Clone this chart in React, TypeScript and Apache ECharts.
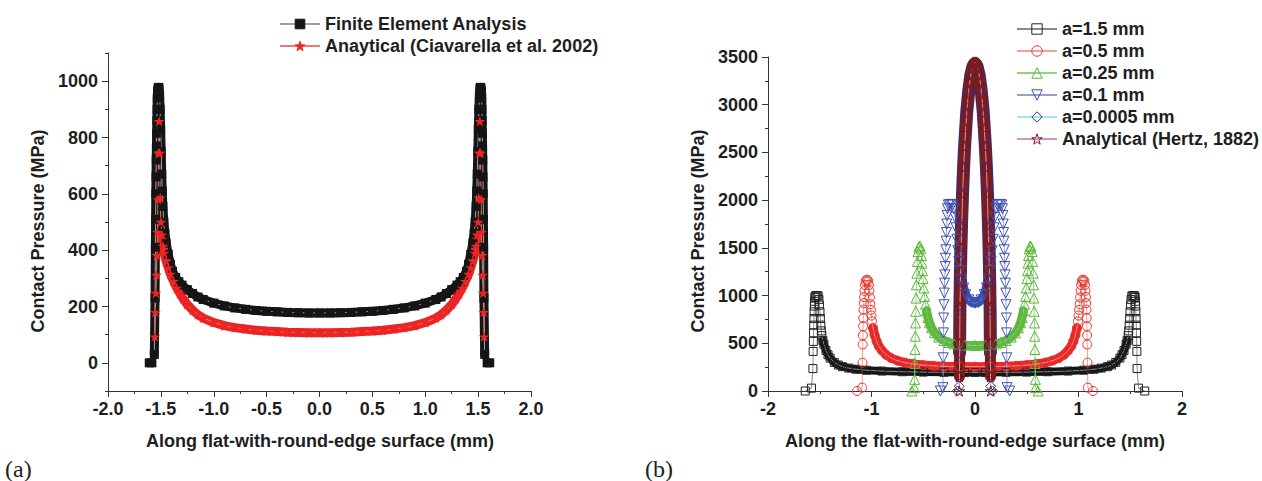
import React, { useEffect, useRef } from "react";
import * as echarts from "echarts";

type Pt = [number, number];

const FONT = "'Liberation Sans', Arial, Helvetica, sans-serif";
const AXIS_COLOR = "#333333";
const TEXT_COLOR = "#1e1e1e";

// ---------- Panel (a) ----------
const A_X_TITLE = "Along flat-with-round-edge surface (mm)";
const A_Y_TITLE = "Contact Pressure (MPa)";
const A_Y_MAJOR = [0, 200, 400, 600, 800, 1000];
const A_Y_MINOR = [-100, 100, 300, 500, 700, 900, 1100];
const A_NAMES = ["Finite Element Analysis", "Anaytical (Ciavarella et al. 2002)"];

const FEA_EDGE_L: Pt[] = [[-1.61, 0], [-1.585, 0], [-1.562, 30], [-1.555, 230], [-1.552, 410], [-1.55, 510], [-1.548, 600], [-1.546, 660], [-1.544, 720], [-1.542, 770], [-1.54, 815], [-1.538, 860], [-1.536, 900], [-1.534, 940], [-1.531, 965]];
const FEA_INNER: Pt[] = [[-1.527, 975], [-1.522, 978], [-1.517, 975], [-1.512, 950], [-1.507, 900], [-1.502, 830], [-1.497, 750], [-1.492, 670], [-1.487, 610], [-1.481, 555], [-1.472, 500], [-1.462, 460], [-1.45, 425], [-1.43, 385], [-1.41, 350], [-1.39, 325], [-1.36, 303], [-1.33, 288], [-1.3, 276], [-1.25, 260], [-1.2, 246], [-1.15, 234], [-1.1, 225], [-1.0, 212], [-0.9, 202], [-0.8, 195], [-0.7, 190], [-0.6, 186], [-0.5, 183], [-0.4, 181], [-0.3, 179], [-0.2, 178], [-0.1, 177], [0, 177], [0.1, 177], [0.2, 178], [0.3, 179], [0.4, 181], [0.5, 183], [0.6, 186], [0.7, 190], [0.8, 195], [0.9, 202], [1.0, 212], [1.1, 225], [1.15, 234], [1.2, 246], [1.25, 260], [1.3, 276], [1.33, 288], [1.36, 303], [1.39, 325], [1.41, 350], [1.43, 385], [1.45, 425], [1.462, 460], [1.472, 500], [1.481, 555], [1.487, 610], [1.492, 670], [1.497, 750], [1.502, 830], [1.507, 900], [1.512, 950], [1.517, 975], [1.522, 978], [1.527, 975]];
const FEA_EDGE_R: Pt[] = [[1.531, 965], [1.534, 940], [1.536, 900], [1.538, 860], [1.54, 815], [1.542, 770], [1.544, 720], [1.546, 660], [1.548, 600], [1.55, 510], [1.552, 410], [1.555, 230], [1.562, 30], [1.585, 0], [1.61, 0]];

const ANA_EDGE_L: Pt[] = [[-1.557, 93], [-1.552, 180], [-1.547, 248], [-1.542, 312], [-1.537, 382], [-1.532, 464], [-1.527, 580], [-1.522, 745], [-1.516, 858], [-1.511, 745], [-1.506, 585], [-1.5, 500]];
const ANA_INNER: Pt[] = [[-1.49, 455], [-1.48, 415], [-1.47, 390], [-1.45, 362], [-1.43, 338], [-1.41, 315], [-1.38, 290], [-1.35, 266], [-1.32, 246], [-1.29, 228], [-1.25, 207], [-1.2, 187], [-1.15, 171], [-1.1, 159], [-1.0, 143], [-0.9, 132], [-0.8, 125], [-0.7, 120], [-0.6, 116], [-0.5, 113], [-0.4, 111], [-0.3, 109], [-0.2, 108], [-0.1, 107], [0, 107], [0.1, 107], [0.2, 108], [0.3, 109], [0.4, 111], [0.5, 113], [0.6, 116], [0.7, 120], [0.8, 125], [0.9, 132], [1.0, 143], [1.1, 159], [1.15, 171], [1.2, 187], [1.25, 207], [1.29, 228], [1.32, 246], [1.35, 266], [1.38, 290], [1.41, 315], [1.43, 338], [1.45, 362], [1.47, 390], [1.48, 415], [1.49, 455]];
const ANA_EDGE_R: Pt[] = [[1.5, 500], [1.506, 585], [1.511, 745], [1.516, 858], [1.522, 745], [1.527, 580], [1.532, 464], [1.537, 382], [1.542, 312], [1.547, 248], [1.552, 180], [1.557, 93]];

// ---------- Panel (b) ----------
const B_X_TITLE = "Along the flat-with-round-edge surface (mm)";
const B_Y_TITLE = "Contact Pressure (MPa)";
const B_NAMES = ["a=1.5 mm", "a=0.5 mm", "a=0.25 mm", "a=0.1 mm", "a=0.0005 mm", "Analytical (Hertz, 1882)"];

const A15_EDGE_L: Pt[] = [[-1.64, 0], [-1.58, 30], [-1.566, 235], [-1.564, 415], [-1.562, 520], [-1.56, 610], [-1.558, 690], [-1.556, 760], [-1.554, 830], [-1.552, 890], [-1.55, 940], [-1.547, 980], [-1.543, 995], [-1.535, 1000], [-1.525, 1000], [-1.515, 995], [-1.508, 960], [-1.503, 900], [-1.498, 830], [-1.494, 760], [-1.49, 690], [-1.485, 630], [-1.48, 580]];
const A15_FLOOR: Pt[] = [[-1.47, 530], [-1.46, 490], [-1.44, 425], [-1.42, 380], [-1.4, 345], [-1.36, 300], [-1.32, 272], [-1.28, 255], [-1.22, 240], [-1.15, 228], [-1.05, 218], [-0.9, 209], [-0.7, 202], [-0.5, 198], [-0.3, 196], [-0.1, 195], [0, 195], [0.1, 195], [0.3, 196], [0.5, 198], [0.7, 202], [0.9, 209], [1.05, 218], [1.15, 228], [1.22, 240], [1.28, 255], [1.32, 272], [1.36, 300], [1.4, 345], [1.42, 380], [1.44, 425], [1.46, 490], [1.47, 530]];
const A15_EDGE_R: Pt[] = [[1.48, 580], [1.485, 630], [1.49, 690], [1.494, 760], [1.498, 830], [1.503, 900], [1.508, 960], [1.515, 995], [1.525, 1000], [1.535, 1000], [1.543, 995], [1.547, 980], [1.55, 940], [1.552, 890], [1.554, 830], [1.556, 760], [1.558, 690], [1.56, 610], [1.562, 520], [1.564, 415], [1.566, 235], [1.58, 30], [1.64, 0]];

const A05_EDGE_L: Pt[] = [[-1.14, 0], [-1.09, 35], [-1.087, 296], [-1.085, 487], [-1.083, 584], [-1.081, 678], [-1.079, 765], [-1.077, 852], [-1.074, 921], [-1.071, 985], [-1.067, 1050], [-1.062, 1110], [-1.056, 1150], [-1.048, 1165], [-1.04, 1165], [-1.032, 1150], [-1.026, 1110], [-1.021, 1050], [-1.016, 980], [-1.011, 910], [-1.006, 850], [-1.001, 790], [-0.995, 730]];
const A05_FLOOR: Pt[] = [[-0.985, 660], [-0.97, 585], [-0.95, 520], [-0.93, 470], [-0.9, 425], [-0.86, 380], [-0.81, 345], [-0.75, 318], [-0.68, 298], [-0.6, 283], [-0.5, 272], [-0.4, 264], [-0.3, 259], [-0.15, 256], [0, 255], [0.15, 256], [0.3, 259], [0.4, 264], [0.5, 272], [0.6, 283], [0.68, 298], [0.75, 318], [0.81, 345], [0.86, 380], [0.9, 425], [0.93, 470], [0.95, 520], [0.97, 585], [0.985, 660]];
const A05_EDGE_R: Pt[] = [[0.995, 730], [1.001, 790], [1.006, 850], [1.011, 910], [1.016, 980], [1.021, 1050], [1.026, 1110], [1.032, 1150], [1.04, 1165], [1.048, 1165], [1.056, 1150], [1.062, 1110], [1.067, 1050], [1.071, 985], [1.074, 921], [1.077, 852], [1.079, 765], [1.081, 678], [1.083, 584], [1.085, 487], [1.087, 296], [1.09, 35], [1.14, 0]];

const A025_EDGE_L: Pt[] = [[-0.61, 0], [-0.585, 35], [-0.583, 122], [-0.581, 289], [-0.579, 435], [-0.577, 574], [-0.575, 713], [-0.572, 835], [-0.569, 974], [-0.566, 1113], [-0.562, 1235], [-0.557, 1357], [-0.551, 1461], [-0.542, 1510], [-0.532, 1520], [-0.523, 1490], [-0.517, 1420], [-0.512, 1340], [-0.507, 1260], [-0.502, 1180], [-0.495, 1080], [-0.487, 990], [-0.478, 910]];
const A025_FLOOR: Pt[] = [[-0.468, 840], [-0.455, 770], [-0.44, 715], [-0.42, 662], [-0.39, 610], [-0.35, 565], [-0.3, 530], [-0.25, 508], [-0.2, 493], [-0.1, 480], [0, 477], [0.1, 480], [0.2, 493], [0.25, 508], [0.3, 530], [0.35, 565], [0.39, 610], [0.42, 662], [0.44, 715], [0.455, 770], [0.468, 840]];
const A025_EDGE_R: Pt[] = [[0.478, 910], [0.487, 990], [0.495, 1080], [0.502, 1180], [0.507, 1260], [0.512, 1340], [0.517, 1420], [0.523, 1490], [0.532, 1520], [0.542, 1510], [0.551, 1461], [0.557, 1357], [0.562, 1235], [0.566, 1113], [0.569, 974], [0.572, 835], [0.575, 713], [0.577, 574], [0.579, 435], [0.581, 289], [0.583, 122], [0.585, 35], [0.61, 0]];

const A01_EDGE_L: Pt[] = [[-0.335, 0], [-0.31, 35], [-0.307, 348], [-0.305, 609], [-0.303, 765], [-0.3, 904], [-0.297, 1026], [-0.294, 1130], [-0.291, 1217], [-0.288, 1304], [-0.285, 1391], [-0.282, 1480], [-0.279, 1570], [-0.276, 1660], [-0.273, 1750], [-0.27, 1840], [-0.266, 1910], [-0.258, 1950], [-0.245, 1955], [-0.23, 1955], [-0.215, 1950], [-0.203, 1910], [-0.193, 1820], [-0.184, 1710], [-0.175, 1590], [-0.166, 1470], [-0.157, 1360]];
const A01_FLOOR: Pt[] = [[-0.145, 1260], [-0.13, 1170], [-0.11, 1080], [-0.09, 1010], [-0.06, 955], [-0.03, 928], [0, 920], [0.03, 928], [0.06, 955], [0.09, 1010], [0.11, 1080], [0.13, 1170], [0.145, 1260]];
const A01_EDGE_R: Pt[] = [[0.157, 1360], [0.166, 1470], [0.175, 1590], [0.184, 1710], [0.193, 1820], [0.203, 1910], [0.215, 1950], [0.23, 1955], [0.245, 1955], [0.258, 1950], [0.266, 1910], [0.27, 1840], [0.273, 1750], [0.276, 1660], [0.279, 1570], [0.282, 1480], [0.285, 1391], [0.288, 1304], [0.291, 1217], [0.294, 1130], [0.297, 1026], [0.3, 904], [0.303, 765], [0.305, 609], [0.307, 348], [0.31, 35], [0.335, 0]];

const A00005_EDGE_L: Pt[] = [[-0.17, 0], [-0.152, 50]];
const A00005_BODY: Pt[] = [[-0.149, 400], [-0.146, 850], [-0.142, 1150], [-0.137, 1450], [-0.13, 1750], [-0.12, 2080], [-0.11, 2350], [-0.1, 2570], [-0.08, 2920], [-0.06, 3150], [-0.04, 3310], [-0.02, 3400], [0, 3430], [0.02, 3400], [0.04, 3310], [0.06, 3150], [0.08, 2920], [0.1, 2570], [0.11, 2350], [0.12, 2080], [0.13, 1750], [0.137, 1450], [0.142, 1150], [0.146, 850], [0.149, 400]];
const A00005_EDGE_R: Pt[] = [[0.152, 50], [0.17, 0]];

const HERTZ_EDGE_L: Pt[] = [[-0.152, 0]];
const HERTZ_BODY: Pt[] = [[-0.15, 150], [-0.148, 500], [-0.145, 880], [-0.142, 1080], [-0.139, 1250], [-0.134, 1500], [-0.128, 1720], [-0.12, 2060], [-0.11, 2340], [-0.1, 2560], [-0.09, 2750], [-0.08, 2910], [-0.07, 3040], [-0.06, 3150], [-0.05, 3240], [-0.04, 3310], [-0.03, 3370], [-0.02, 3410], [-0.01, 3435], [0, 3445], [0.01, 3435], [0.02, 3410], [0.03, 3370], [0.04, 3310], [0.05, 3240], [0.06, 3150], [0.07, 3040], [0.08, 2910], [0.09, 2750], [0.1, 2560], [0.11, 2340], [0.12, 2060], [0.128, 1720], [0.134, 1500], [0.139, 1250], [0.142, 1080], [0.145, 880], [0.148, 500], [0.15, 150]];
const HERTZ_EDGE_R: Pt[] = [[0.152, 0]];

const STAR = "path://M50 0L61.2 34.5H97.6L68.2 55.9L79.4 90.5L50 69.1L20.6 90.5L31.8 55.9L2.4 34.5H38.8Z";

function markers(name: string, data: Pt[], panel: number, symbol: string, size: number, stroke: string, fill: string, lineColor: string, rotate = 0): any {
  return {
    name,
    type: "line",
    xAxisIndex: panel,
    yAxisIndex: panel === 0 ? 0 : 2,
    data,
    symbol,
    symbolSize: size,
    symbolRotate: rotate,
    symbolKeepAspect: true,
    showSymbol: true,
    showAllSymbol: true,
    itemStyle: { color: fill, borderColor: stroke, borderWidth: fill === stroke ? 0 : 1 },
    lineStyle: { color: lineColor, width: 1 },
    emphasis: { disabled: true },
    silent: true,
  };
}

function band(name: string, data: Pt[], panel: number, color: string, width: number): any {
  return {
    name,
    type: "line",
    xAxisIndex: panel,
    yAxisIndex: panel === 0 ? 0 : 2,
    data,
    symbol: "none",
    lineStyle: { color, width, cap: "round", join: "round" },
    emphasis: { disabled: true },
    silent: true,
  };
}

const labelStyle = { fontFamily: FONT, fontSize: 18, fontWeight: "bold", color: TEXT_COLOR };
const plain = (v: number) => String(v);

export default function App() {
  const ref = useRef<HTMLDivElement>(null);
  useEffect(() => {
    if (!ref.current) return;
    const chart = echarts.init(ref.current, undefined, { renderer: "svg" });
    const T = "transparent";
    const series: any[] = [
      // panel (a)
      band("fea-band", [...FEA_EDGE_L.slice(2), ...FEA_INNER, ...FEA_EDGE_R.slice(0, -2)], 0, "#151515", 9),
      markers(A_NAMES[0], [...FEA_EDGE_L, ...FEA_INNER, ...FEA_EDGE_R], 0, "rect", 9, "#151515", "#151515", "#a0a0a0"),
      band("ana-band", ANA_INNER, 0, "#ec2424", 9),
      markers(A_NAMES[1], [...ANA_EDGE_L, ...ANA_INNER, ...ANA_EDGE_R], 0, STAR, 11, "#ec2424", "#ec2424", "#f07a66"),
      // panel (b)
      band("a15-band", A15_FLOOR, 1, "#151515", 8),
      markers(B_NAMES[0], [...A15_EDGE_L, ...A15_FLOOR, ...A15_EDGE_R], 1, "rect", 8, "#222222", T, "#8a8a8a"),
      band("a05-band", A05_FLOOR, 1, "#e8262a", 9),
      markers(B_NAMES[1], [...A05_EDGE_L, ...A05_FLOOR, ...A05_EDGE_R], 1, "circle", 9, "#e8322c", T, "#f4a28f"),
      band("a025-band", A025_FLOOR, 1, "#62b842", 9),
      markers(B_NAMES[2], [...A025_EDGE_L, ...A025_FLOOR, ...A025_EDGE_R], 1, "triangle", 10, "#5cb83a", T, "#93d47f"),
      band("a01-band", A01_FLOOR, 1, "#3a4ea8", 9),
      markers(B_NAMES[3], [...A01_EDGE_L, ...A01_FLOOR, ...A01_EDGE_R], 1, "triangle", 10, "#3c52b2", T, "#9aa0cc", 180),
      band("a00005-band", A00005_BODY, 1, "#2d2f8e", 13),
      markers(B_NAMES[4], [...A00005_EDGE_L, ...A00005_BODY, ...A00005_EDGE_R], 1, "diamond", 10, "#2d2f8e", T, "#a8e4e4"),
      band("hertz-band", HERTZ_BODY, 1, "#7b1c1c", 11),
      markers(B_NAMES[5], [...HERTZ_EDGE_L, ...HERTZ_BODY, ...HERTZ_EDGE_R], 1, STAR, 11, "#7b1c1c", T, "#d493c4"),
    ];

    const axisLine = { show: true, onZero: false, lineStyle: { color: AXIS_COLOR, width: 1 } };
    const tick = { show: true, length: 6, lineStyle: { color: AXIS_COLOR, width: 1 } };
    const minor = { show: true, splitNumber: 2, length: 3, lineStyle: { color: AXIS_COLOR, width: 1 } };

    chart.setOption({
      animation: false,
      backgroundColor: "#ffffff",
      grid: [
        { left: 108, top: 53, width: 423, height: 338, containLabel: false },
        { left: 768, top: 57, width: 414, height: 334, containLabel: false },
      ],
      xAxis: [
        {
          gridIndex: 0, type: "value", min: -2, max: 2, interval: 0.5,
          axisLine, axisTick: tick, minorTick: minor, splitLine: { show: false },
          axisLabel: { ...labelStyle, margin: 9, formatter: (v: number) => v.toFixed(1) },
        },
        {
          gridIndex: 1, type: "value", min: -2, max: 2, interval: 1,
          axisLine, axisTick: tick, minorTick: minor, splitLine: { show: false },
          axisLabel: { ...labelStyle, margin: 9, formatter: plain },
        },
      ],
      yAxis: [
        {
          gridIndex: 0, type: "value", min: -100, max: 1100,
          axisLine, splitLine: { show: false },
          axisTick: { ...tick, customValues: A_Y_MAJOR },
          axisLabel: { ...labelStyle, margin: 10, customValues: A_Y_MAJOR, formatter: plain },
        },
        {
          gridIndex: 0, type: "value", min: -100, max: 1100, position: "left",
          axisLine: { show: false, onZero: false }, splitLine: { show: false },
          axisTick: { show: true, length: 3, lineStyle: { color: AXIS_COLOR, width: 1 }, customValues: A_Y_MINOR },
          axisLabel: { show: false },
        },
        {
          gridIndex: 1, type: "value", min: 0, max: 3500, interval: 500,
          axisLine, axisTick: tick, minorTick: minor, splitLine: { show: false },
          axisLabel: { ...labelStyle, margin: 10, formatter: plain },
        },
      ],
      legend: [
        {
          data: A_NAMES, orient: "vertical", left: 274, top: 10,
          itemWidth: 40, itemHeight: 12, itemGap: 4,
          itemStyle: { borderWidth: 1 },
          textStyle: { ...labelStyle }, selectedMode: false,
        },
        {
          data: B_NAMES, orient: "vertical", left: 1011, top: 15,
          itemWidth: 40, itemHeight: 13, itemGap: 4,
          itemStyle: { borderWidth: 1 },
          textStyle: { ...labelStyle }, selectedMode: false,
        },
      ],
      graphic: [
        { type: "text", x: 38, y: 231, rotation: Math.PI / 2, style: { text: A_Y_TITLE, fill: TEXT_COLOR, align: "center", verticalAlign: "middle", font: `bold 18px ${FONT}` } },
        { type: "text", x: 698, y: 231, rotation: Math.PI / 2, style: { text: B_Y_TITLE, fill: TEXT_COLOR, align: "center", verticalAlign: "middle", font: `bold 18px ${FONT}` } },
        { type: "text", x: 320, y: 441, style: { text: A_X_TITLE, fill: TEXT_COLOR, align: "center", verticalAlign: "middle", font: `bold 18px ${FONT}` } },
        { type: "text", x: 975, y: 441, style: { text: B_X_TITLE, fill: TEXT_COLOR, align: "center", verticalAlign: "middle", font: `bold 18px ${FONT}` } },
        { type: "text", x: 5, y: 469, style: { text: "(a)", fill: "#222", align: "left", verticalAlign: "middle", font: `24px 'Liberation Serif', 'DejaVu Serif', serif` } },
        { type: "text", x: 645, y: 469, style: { text: "(b)", fill: "#222", align: "left", verticalAlign: "middle", font: `24px 'Liberation Serif', 'DejaVu Serif', serif` } },
      ],
      series,
    });
    return () => chart.dispose();
  }, []);
  return <div ref={ref} style={{ position: "fixed", left: 0, top: 0, width: 1262, height: 481, background: "#fff" }} />;
}
